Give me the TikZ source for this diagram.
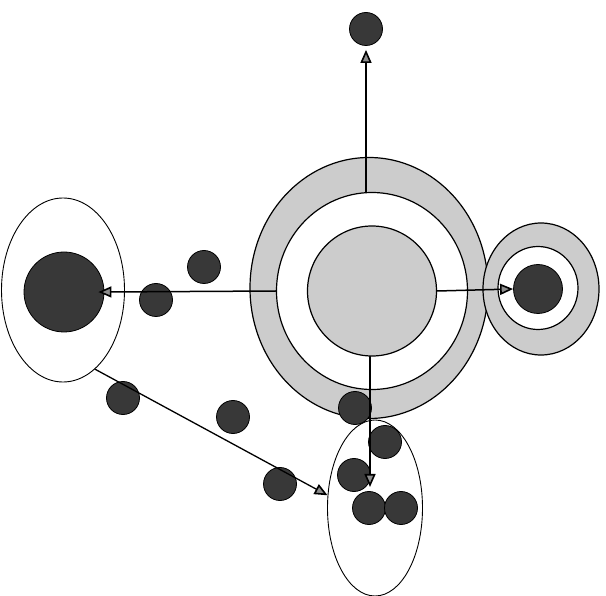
\documentclass[tikz,border=0pt]{standalone}
\usepackage{tikz}
\usetikzlibrary{arrows.meta,shapes.geometric}
\usepackage{xcolor}

\begin{document}
\begin{tikzpicture}[x=1pt,y=-1pt,line cap=round,
  >={Triangle[length=13pt,width=11pt,fill=black!45,line width=1.6pt]},
  ring/.style={ellipse,draw=black,fill=black!20,line width=1.2pt,inner sep=0pt},
  hole/.style={ellipse,draw=black,fill=white,line width=1.2pt,inner sep=0pt},
  zone/.style={ellipse,draw=black,line width=0.9pt,inner sep=0pt},
  dot/.style={circle,draw=black,fill=black!78,line width=0.8pt,inner sep=0pt,minimum size=33pt},
  link/.style={->,line width=1.5pt}]
\useasboundingbox (0,0) rectangle (606,596);
% central rings
\node[ring,minimum width=238pt,minimum height=261pt] (outer) at (369,288) {};
\node[hole,minimum width=191pt,minimum height=197pt] (inner) at (372,291) {};
\node[ring,minimum width=129pt,minimum height=130pt] (core) at (372,291) {};
% right rings
\node[ring,minimum width=116pt,minimum height=132pt] (router) at (541,289) {};
\node[hole,minimum width=80pt,minimum height=83pt] (rinner) at (538,288) {};
\node[dot,minimum size=49pt] (rdark) at (538,289) {};
% left and bottom groups
\node[zone,minimum width=123pt,minimum height=184pt] (lzone) at (63,290) {};
\node[dot,minimum size=80pt] (ldark) at (64,292) {};
\node[zone,minimum width=95pt,minimum height=176pt] (bzone) at (375,508) {};
% top target
\node[dot] (topdot) at (366,29) {};
% loose dots
\node[dot] (d1) at (156,300) {};
\node[dot] (d2) at (204,267) {};
\node[dot] (d3) at (123,398) {};
\node[dot] (d4) at (233,417) {};
\node[dot] (d5) at (280,484) {};
\node[dot] (d6) at (355,408) {};
\node[dot] (d7) at (385,442) {};
\node[dot] (d8) at (354,475) {};
\node[dot] (d9) at (369,508) {};
\node[dot] (d10) at (401,508) {};
% arrows
\coordinate (dn) at (370,487);
\draw[link,shorten >=4pt] (inner.north -| topdot.south) -- (topdot.south);
\draw[link,shorten >=-6pt] (inner.west) -- (ldark.east);
\draw[link] (core.east) -- (rdark.west);
\draw[link] (core.south -| dn) -- (dn);
\draw[link,line width=1.3pt] (lzone.-68) -- (bzone.165);
\end{tikzpicture}
\end{document}
